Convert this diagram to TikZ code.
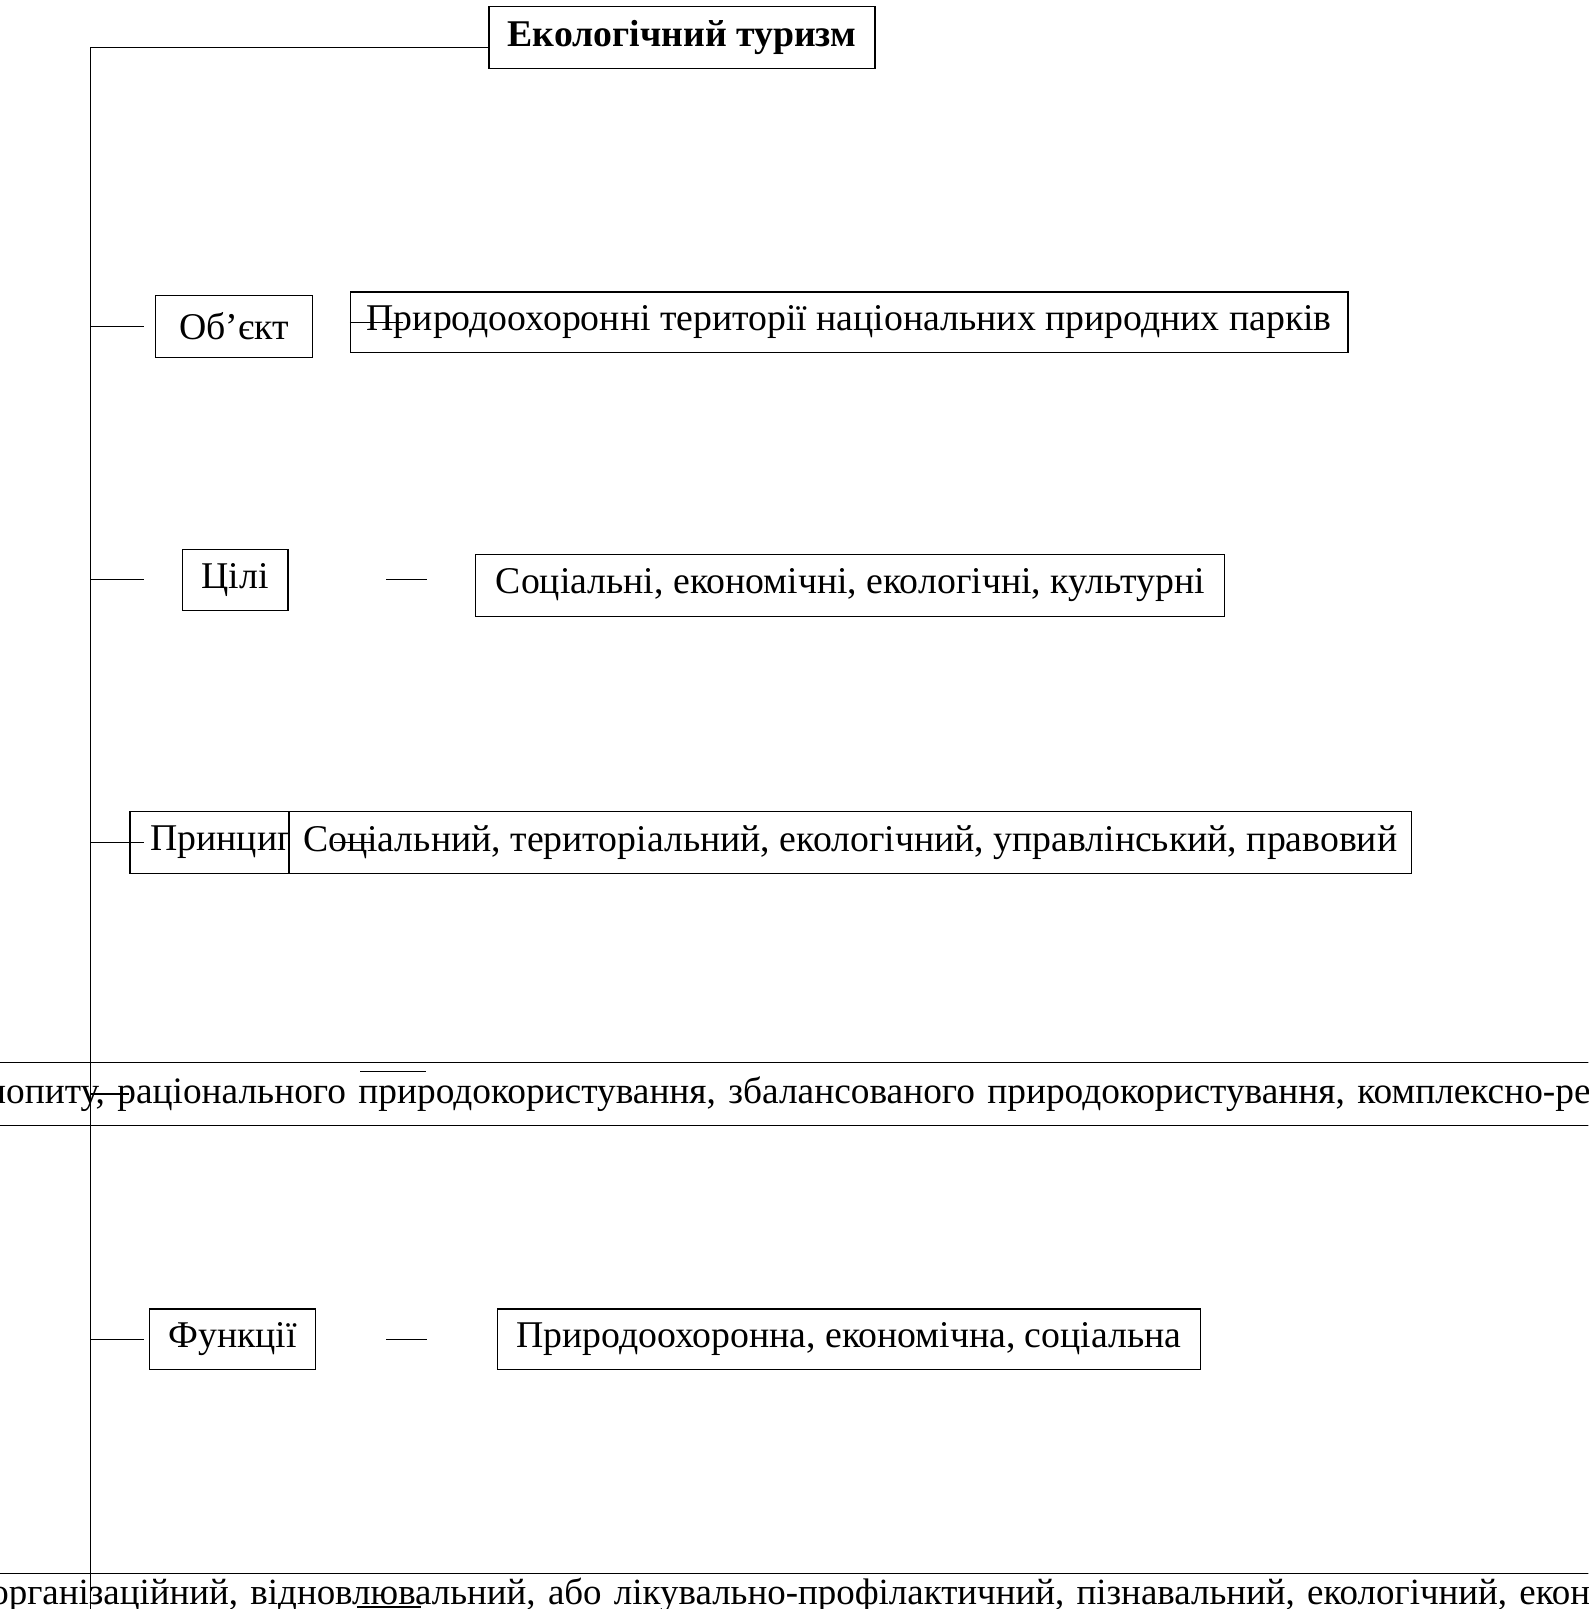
\documentclass[tikz,border=0pt]{standalone}
\usepackage{fontspec}
\setmainfont{Liberation Serif}
\begin{document}
\begin{tikzpicture}[x=0.5pt, y=-0.5pt, line width=0.6pt,
    box/.style={draw, rectangle, inner sep=0pt, fill=white, font=\fontsize{18.4}{20}\selectfont},
    wide/.style={box, text width=900pt, align=left}]
  \useasboundingbox (0,0) rectangle (1548,1568);
  \clip (0,0) rectangle (1548,1568);
  % title
  \node[box, font=\fontsize{18.4}{20}\selectfont\bfseries, minimum width=188pt, minimum height=30pt, anchor=north west] (eco) at (476,6) {Екологічний туризм};
  \coordinate (spine) at (88,46);
  \draw (spine) -- (spine -| eco.west);
  % object
  \node[box, minimum width=76.5pt, minimum height=30.5pt, anchor=north west] (obj) at (151,287) {Об’єкт};
  \node[box, minimum width=486pt, minimum height=29.5pt, anchor=north west] (objtxt) at (341,284) {Природоохоронні території національних природних парків};
  \draw (objtxt.west) -- ++(26pt,0);
  % goals
  \node[box, minimum width=51.5pt, minimum height=29.5pt, anchor=north west] (goal) at (177,535) {Цілі};
  \node[box, minimum width=365pt, minimum height=30pt, anchor=north west] (goaltxt) at (463,540) {Соціальні, економічні, екологічні, культурні};
  \draw ([xshift=47.5pt]goal.east) -- ++(20pt,0);
  % principles
  \node[box, text width=79pt, inner xsep=10pt, align=left, minimum height=30.5pt, anchor=north west] (princ) at (126,790) {Принцип};
  \node[box, minimum width=547pt, minimum height=30.5pt, anchor=north west] (princtxt) at (281,790) {Соціальний, територіальний, екологічний, управлінський, правовий};
  \draw (princ.east) -- ++(18.5pt,0);
  % models
  \node[wide, font=\fontsize{18.2}{20}\selectfont, minimum height=30.5pt, anchor=north west] (models) at (-14,1035) {попиту, раціонального природокористування, збалансованого природокористування, комплексно-ре};
  \draw (spine |- models.west) -- ++(19pt,0);
  \draw (351,1044) -- (415,1044);
  % functions
  \node[box, minimum width=81pt, minimum height=29.5pt, anchor=north west] (func) at (145,1275) {Функції};
  \node[box, minimum width=342.5pt, minimum height=29.5pt, anchor=north west] (functxt) at (484,1275) {Природоохоронна, економічна, соціальна};
  \draw ([xshift=34pt]func.east) -- ++(20pt,0);
  % kinds
  \node[wide, font=\fontsize{18}{20}\selectfont, minimum height=21pt, anchor=north west] (kinds) at (-10,1533) {організаційний, відновлювальний, або лікувально-профілактичний, пізнавальний, екологічний, екон};
  \draw (348,1566) -- (410,1566);
  % ticks
  \foreach \n in {obj, goal, princ, func}
    \draw (spine |- \n.west) -- ++(26pt,0);
  \draw (spine) -- (88,1600);
\end{tikzpicture}
\end{document}
